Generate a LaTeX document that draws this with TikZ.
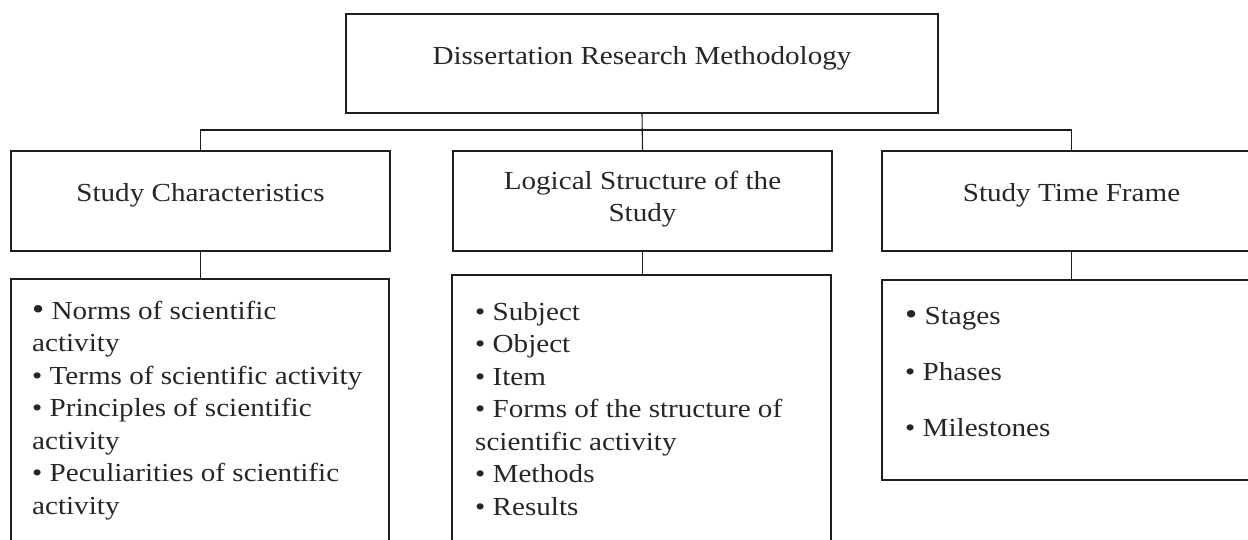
\documentclass[tikz,border=0pt]{standalone}
\usepackage{fontspec}
\setmainfont{Liberation Serif}[FakeStretch=1.12]
\definecolor{ink}{HTML}{1E1E1E}
\definecolor{txtc}{HTML}{262626}
% slightly heavier bullet used for the first item of some lists
\newcommand{\bigdot}{{\fontsize{31}{31}\selectfont •}\ }
\begin{document}
\begin{tikzpicture}[x=1pt,y=-1pt,
  box/.style={draw=ink, line width=1.5pt, rectangle, inner sep=0pt},
  link/.style={draw=ink, line width=1.1pt},
  label/.style={text=txtc, inner sep=0pt, font=\fontsize{26}{32.5}\selectfont},
  listtext/.style={text=txtc, inner sep=0pt, anchor=base west,
    font=\fontsize{26}{32.5}\selectfont}]
\useasboundingbox (0,0) rectangle (1248,539);
\clip (0,0) rectangle (1248,539);

% boxes
\node[box, minimum width=592pt, minimum height=99pt] (top) at (642,63.5) {};
\node[box, minimum width=379pt, minimum height=100pt] (h1) at (200.5,201) {};
\node[box, minimum width=379pt, minimum height=100pt] (h2) at (642.5,201) {};
\node[box, minimum width=379pt, minimum height=100pt] (h3) at (1071.5,201) {};
\node[box, minimum width=378pt, minimum height=300pt] (l1) at (200,429) {};
\node[box, minimum width=379pt, minimum height=300pt] (l2) at (641.5,425) {};
\node[box, minimum width=379pt, minimum height=200pt] (l3) at (1071.5,380) {};

% connectors
\coordinate (bus) at (642,130);
\draw[link] (top.south) -- (h2.north);
\draw[link] (h1.north) -- (h1.north |- bus) -- (h3.north |- bus) -- (h3.north);
\draw[link] (h1.south) -- (h1.south |- l1.north);
\draw[link] (h2.south) -- (h2.south |- l2.north);
\draw[link] (h3.south) -- (h3.south |- l3.north);

% titles
\node[label, anchor=base] (ttop) at (642,64) {Dissertation Research Methodology};
\node[label, anchor=base] (t1) at (200.5,201) {Study Characteristics};
\node[label, anchor=base] (t2) at (642.5,189)
  {\parbox[t]{370pt}{\centering Logical Structure of the\\Study}};
\node[label, anchor=base] (t3) at (1071.5,201) {Study Time Frame};

% item lists
\node[listtext] (i1) at (32,319) {\parbox[t]{356pt}{\raggedright
  \bigdot Norms of scientific\\
  activity\\
  • Terms of scientific activity\\
  • Principles of scientific\\
  activity\\
  • Peculiarities of scientific\\
  activity}};
\node[listtext] (i2) at (475,320) {\parbox[t]{350pt}{\raggedright
  • Subject\\
  • Object\\
  • Item\\
  • Forms of the structure of\\
  scientific activity\\
  • Methods\\
  • Results}};
\node[listtext, font=\fontsize{26}{56}\selectfont] (i3) at (905,324)
  {\parbox[t]{330pt}{\raggedright
  \bigdot Stages\\
  • Phases\\
  • Milestones}};
\end{tikzpicture}
\end{document}
